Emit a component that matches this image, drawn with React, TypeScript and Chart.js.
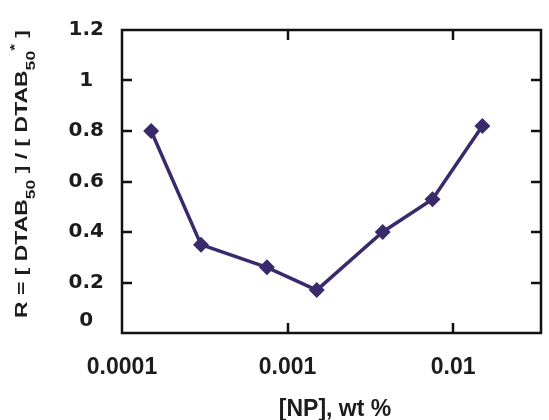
import React, { useEffect, useRef } from "react";
import { Chart, registerables } from "chart.js";

Chart.register(...registerables);

// ---- data ----
const npConcentration = [0.00015, 0.0003, 0.00075, 0.0015, 0.00375, 0.0075, 0.015];
const ratioR = [0.8, 0.35, 0.26, 0.17, 0.4, 0.53, 0.82];
const xTickValues = [0.0001, 0.001, 0.01];
const yTickValues = [0, 0.2, 0.4, 0.6, 0.8, 1, 1.2];
const xTitle = "[NP], wt %";
// y title segments: [text, kind]
const yTitleParts: [string, string][] = [
  ["R = [ DTAB", "n"],
  ["50", "sub"],
  [" ] / [ DTAB", "n"],
  ["50", "sub"],
  ["*", "sup"],
  [" ]", "n"],
];

const LINE_COLOR = "#3a2a6c";
const TEXT_COLOR = "#1c1c1c";
const FONT_FAMILY = "'Liberation Sans', Arial, Helvetica, sans-serif";
const WIDE_FAMILY = "'DejaVu Sans', 'Liberation Sans', sans-serif";

const framePlugin = {
  id: "frame",
  beforeDatasetsDraw(chart: any) {
    const { ctx, chartArea } = chart;
    const { left, right, top, bottom } = chartArea;
    const x = chart.scales.x;
    const y = chart.scales.y;
    ctx.save();
    ctx.strokeStyle = "#111";
    ctx.lineWidth = 2.5;
    ctx.strokeRect(left, top, right - left, bottom - top);
    const tl = 10;
    ctx.beginPath();
    yTickValues.forEach((v) => {
      if (v === 0 || v === 1.2) return;
      const py = Math.round(y.getPixelForValue(v));
      ctx.moveTo(left, py);
      ctx.lineTo(left + tl, py);
      ctx.moveTo(right, py);
      ctx.lineTo(right - tl, py);
    });
    xTickValues.forEach((v) => {
      const px = Math.round(x.getPixelForValue(v));
      if (Math.abs(px - left) < 2) return;
      ctx.moveTo(px, bottom);
      ctx.lineTo(px, bottom - tl);
      ctx.moveTo(px, top);
      ctx.lineTo(px, top + tl);
    });
    ctx.stroke();
    ctx.restore();
  },
  afterDraw(chart: any) {
    const { ctx } = chart;
    ctx.save();
    ctx.fillStyle = TEXT_COLOR;
    // x title
    ctx.font = `bold 23px ${FONT_FAMILY}`;
    ctx.textAlign = "center";
    ctx.textBaseline = "alphabetic";
    ctx.fillText(xTitle, 335, 416);

    // y title, rotated, with sub/superscripts, stretched along reading direction
    const mainFont = `bold 17px ${FONT_FAMILY}`;
    const smallFont = `bold 13px ${FONT_FAMILY}`;
    let total = 0;
    const widths = yTitleParts.map(([t, k]) => {
      ctx.font = k === "n" ? mainFont : smallFont;
      const w = ctx.measureText(t).width;
      total += w;
      return w;
    });
    const targetLen = 288;
    const sx = targetLen / total;
    ctx.translate(26.5, 174);
    ctx.rotate(-Math.PI / 2);
    ctx.scale(sx, 1);
    ctx.textAlign = "left";
    let cx = -total / 2;
    yTitleParts.forEach(([t, k], i) => {
      ctx.font = k === "n" ? mainFont : smallFont;
      const dy = k === "sub" ? 8 : k === "sup" ? -8 : 0;
      ctx.fillText(t, cx, dy);
      cx += widths[i];
    });
    ctx.restore();
  },
};

export default function App() {
  const canvasRef = useRef<HTMLCanvasElement | null>(null);

  useEffect(() => {
    document.body.style.margin = "0";
    const canvas = canvasRef.current;
    if (!canvas) return;
    const chart = new Chart(canvas, {
      type: "line",
      data: {
        datasets: [
          {
            data: npConcentration.map((xv, i) => ({ x: xv, y: ratioR[i] })),
            borderColor: LINE_COLOR,
            backgroundColor: LINE_COLOR,
            borderWidth: 3.5,
            pointStyle: "rectRot",
            pointRadius: 8,
            pointHoverRadius: 8,
            pointBorderWidth: 0,
            tension: 0,
          },
        ],
      },
      options: {
        animation: false,
        responsive: false,
        maintainAspectRatio: false,
        devicePixelRatio: 1,
        layout: { padding: { left: 0, top: 25, right: 2, bottom: 0 } },
        plugins: {
          legend: { display: false },
          tooltip: { enabled: false },
          title: { display: false },
        },
        scales: {
          x: {
            type: "logarithmic",
            min: 0.0001,
            max: 0.0339,
            grid: { display: false, drawTicks: false },
            border: { display: false },
            afterBuildTicks: (scale: any) => {
              scale.ticks = xTickValues.map((v) => ({ value: v }));
            },
            afterFit: (scale: any) => {
              scale.height = 87;
            },
            ticks: {
              autoSkip: false,
              maxRotation: 0,
              minRotation: 0,
              padding: 21,
              color: TEXT_COLOR,
              font: { family: FONT_FAMILY, size: 23, weight: "bold" },
              callback: (v: any) => String(Number(v)),
            },
          },
          y: {
            type: "linear",
            min: 0,
            max: 1.2,
            grid: { display: false, drawTicks: false },
            border: { display: false },
            afterBuildTicks: (scale: any) => {
              scale.ticks = yTickValues.map((v) => ({ value: v }));
            },
            afterFit: (scale: any) => {
              scale.width = 122;
            },
            ticks: {
              autoSkip: false,
              crossAlign: "center",
              padding: 18,
              color: TEXT_COLOR,
              font: { family: WIDE_FAMILY, size: 20, weight: "bold" },
              callback: (v: any) => {
                const s = String(Number(Number(v).toFixed(1)));
                return Number(v) === 0 ? [s, ""] : s;
              },
            },
          },
        },
      },
      plugins: [framePlugin],
    });
    return () => chart.destroy();
  }, []);

  return (
    <div style={{ position: "absolute", left: 0, top: 0, width: 549, height: 420 }}>
      <canvas ref={canvasRef} width={549} height={420} style={{ display: "block" }} />
    </div>
  );
}
